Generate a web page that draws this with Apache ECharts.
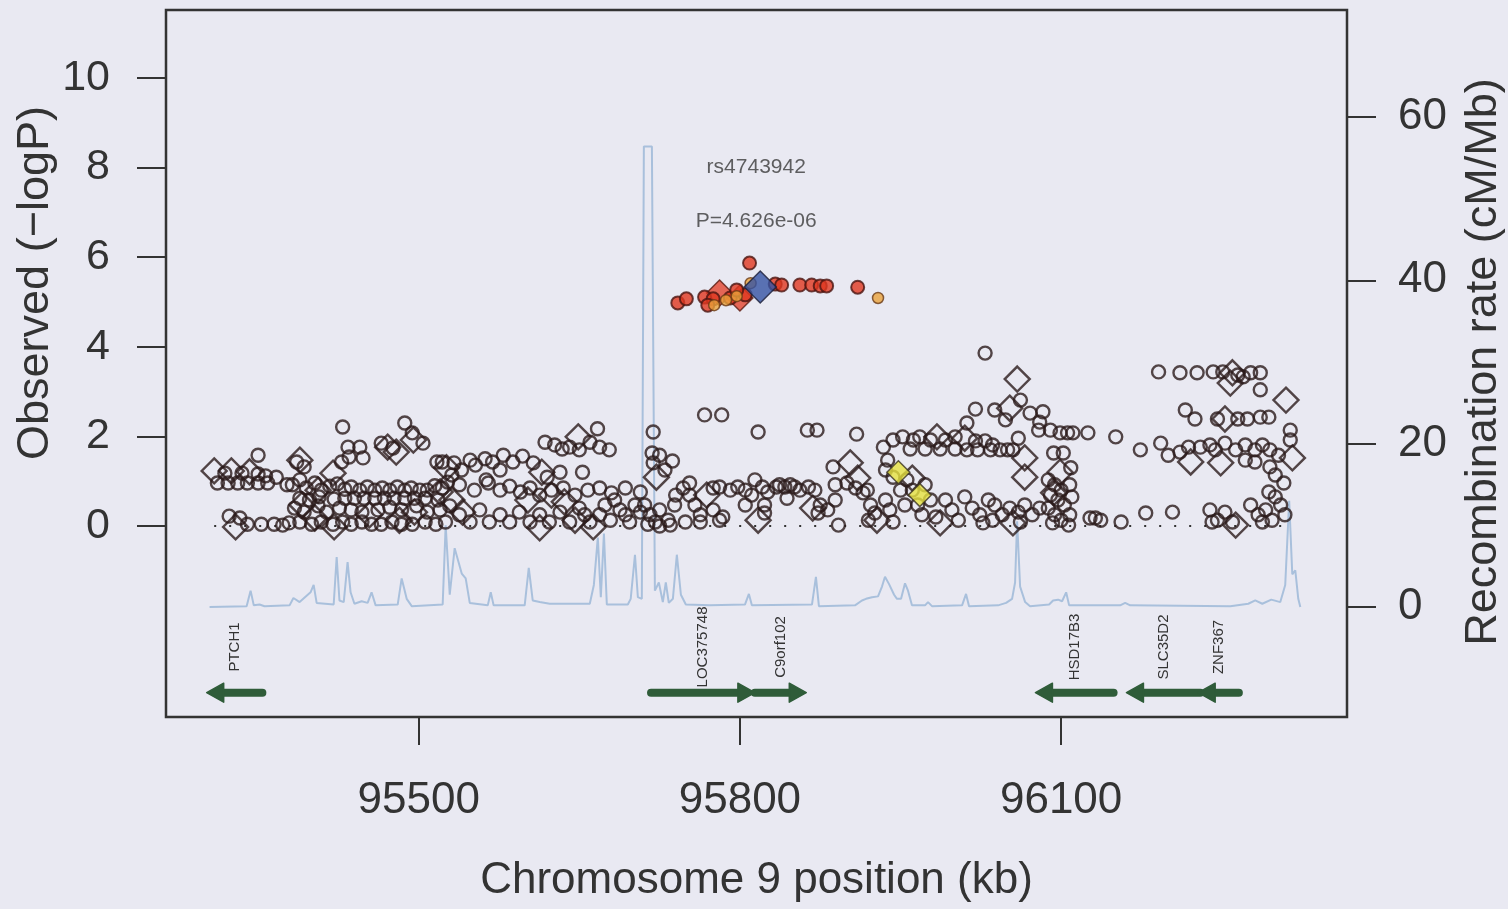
<!DOCTYPE html>
<html>
<head>
<meta charset="utf-8">
<script src="https://cdn.jsdelivr.net/npm/echarts@6/dist/echarts.min.js"></script>
<style>
  html, body { margin: 0; padding: 0; background: #e9e9f2; }
  #chart { width: 1508px; height: 909px; }
</style>
</head>
<body>
<div id="chart"></div>
<script>
// ---- Data: SNP positions (kb, chromosome 9) and observed -log10(P) ----

// Imputed SNPs with no LD information (open circles)
const openCircles = [
  [95319,1.18],[95335,1.18],[95350,1.16],[95357,1.12],[95367,1.09],
  [95312,0.96],[95322,0.96],[95331,0.96],[95340,0.96],[95350,0.96],[95359,0.96],
  [95350,1.58],[95377,0.92],
  [95323,0.22],[95333,0.18],[95340,0.04],[95353,0.04],[95365,0.04],[95373,0.02],[95379,0.07],
  [95429,2.21],[95434,1.76],[95445,1.76],[95435,1.54],[95448,1.52],[95428,1.43],
  [95386,1.43],[95393,1.32],
  [95465,1.85],[95476,1.74],[95487,2.3],[95494,2.08],[95504,1.85],[95517,1.43],[95522,1.43],[95531,1.14],[95548,1.47],
  [95382,0.92],[95389,1.03],[95395,0.85],[95403,0.96],[95409,0.8],[95417,0.89],[95424,0.94],[95431,0.82],[95437,0.87],
  [95445,0.8],[95452,0.87],[95459,0.8],[95466,0.85],[95473,0.8],[95480,0.87],[95487,0.8],[95493,0.85],[95501,0.8],
  [95508,0.8],[95515,0.9],[95522,0.85],[95527,0.98],
  [95389,0.62],[95398,0.58],[95407,0.65],[95421,0.6],[95431,0.62],[95440,0.62],[95449,0.62],[95459,0.62],[95468,0.62],
  [95477,0.62],[95487,0.62],[95496,0.62],[95506,0.62],[95518,0.58],
  [95384,0.4],[95393,0.31],[95406,0.45],[95414,0.31],[95426,0.4],[95437,0.36],[95447,0.31],[95462,0.36],[95473,0.42],
  [95484,0.36],[95498,0.45],[95508,0.31],[95520,0.36],[95529,0.45],
  [95389,0.09],[95400,0.04],[95409,0.09],[95420,0.04],[95429,0.09],[95437,0.04],[95447,0.09],[95456,0.04],[95465,0.04],
  [95475,0.09],[95484,0.04],[95494,0.04],[95506,0.09],[95516,0.04],[95525,0.09],
  [95562,1.5],[95569,1.43],[95576,1.25],[95563,1.03],[95533,1.41],[95540,1.25],[95553,1.36],
  [95597,1.56],[95607,1.41],[95620,1.09],
  [95618,1.87],[95627,1.81],[95634,1.72],[95641,1.76],[95650,1.7],[95660,1.87],[95669,1.76],[95678,1.7],[95667,2.17],
  [95632,1.2],[95653,1.2],[95579,1.58],[95588,1.43],
  [95538,0.92],[95552,0.8],[95565,0.96],[95576,0.8],[95585,0.89],[95595,0.76],[95604,0.85],[95613,0.69],[95624,0.8],
  [95635,0.85],[95646,0.69],[95658,0.8],[95669,0.85],[95680,0.74],[95693,0.85],[95707,0.76],
  [95538,0.25],[95548,0.09],[95557,0.36],[95566,0.09],[95576,0.25],[95585,0.09],[95594,0.31],[95604,0.09],[95613,0.25],
  [95622,0.09],[95632,0.31],[95641,0.09],[95650,0.4],[95660,0.09],[95669,0.25],[95679,0.13],[95688,0.36],[95697,0.09],
  [95707,0.31],[95655,0.25],[95674,0.47],[95683,0.58],[95693,0.25],[95702,0.47],
  [95719,2.1],[95718,1.63],[95725,1.58],[95737,1.45],[95719,1.41],[95730,1.25],
  [95767,2.48],[95783,2.48],
  [95711,0.47],[95716,0.25],[95721,0.09],[95725,0.36],[95733,0.13],[95739,0.47],[95747,0.85],[95753,0.69],[95758,0.47],
  [95763,0.25],[95775,0.85],[95775,0.36],[95781,0.13],[95763,0.09],[95749,0.09],[95735,0.02],[95725,0.0],[95714,0.04],
  [95740,0.69],[95753,0.96],
  [95781,0.87],[95798,0.87],[95805,0.8],[95811,0.69],[95821,0.87],[95826,0.76],[95834,0.87],[95842,0.87],[95851,0.87],
  [95856,0.8],[95864,0.87],[95870,0.8],[95791,0.8],[95814,1.03],
  [95823,0.47],[95823,0.29],[95784,0.2],[95805,0.47],
  [95817,2.1],
  [95863,2.14],[95872,2.14],[95909,2.05],
  [95837,0.92],[95847,0.92],[95844,0.62],[95875,0.47],[95882,0.36],[95889,0.58],[95873,0.29],[95892,0.02],
  [95887,1.32],[95889,0.92],[95900,0.96],[95908,0.85],[95919,0.8],
  [95915,0.74],[95922,0.47],[95926,0.29],[95936,0.58],[95940,0.36],[95943,0.09],[95920,0.13],
  [95934,1.76],[95938,1.47],[95936,1.25],[95943,1.09],
  [95943,1.92],[95952,1.99],[95962,1.92],[95968,1.99],[95978,1.92],[95992,1.92],[96001,1.99],[96020,1.9],[96029,1.9],[96036,1.81],
  [95959,1.72],[95973,1.72],[95987,1.72],[96001,1.72],[96012,1.7],[96022,1.7],[96034,1.7],[96043,1.7],[96050,1.7],[96055,1.7],
  [95956,1.03],[95961,0.8],[95966,0.47],[95973,0.92],[95978,0.58],[95983,0.2],[95970,0.25],
  [95992,0.58],[95998,0.36],[96004,0.13],[96010,0.65],[96017,0.4],[96024,0.25],[96032,0.58],[96036,0.13],[96027,0.07],
  [95950,0.8],[95954,0.47],
  [96029,3.86],[96062,2.81],[96020,2.61],[96038,2.59],[96012,2.3],[96048,2.37],
  [96071,2.52],[96083,2.55],[96080,2.32],[96079,2.14],[96090,2.14],[96099,2.08],[96106,2.08],[96111,2.08],[96125,2.08],
  [96060,1.96],[96093,1.63],[96102,1.63],[96109,1.3],
  [96088,1.03],[96094,0.92],[96100,0.8],[96108,0.92],[96090,0.69],[96097,0.58],[96103,0.47],[96110,0.65],[96088,0.4],
  [96094,0.25],[96100,0.13],[96108,0.25],[96092,0.07],[96107,0.02],
  [96038,0.47],[96045,0.25],[96052,0.4],[96060,0.31],[96066,0.47],[96073,0.25],[96080,0.4],[96062,0.09],
  [96127,0.18],[96132,0.18],[96137,0.13],[96156,0.09],[96179,0.29],[96204,0.31],
  [96191,3.44],[96211,3.42],[96227,3.42],[96242,3.44],[96251,3.44],[96265,3.37],[96277,3.42],[96286,3.42],[96286,3.04],[96270,3.33],
  [96216,2.59],[96225,2.39],
  [96246,2.39],[96265,2.39],[96274,2.39],[96286,2.43],[96294,2.43],
  [96151,1.99],[96174,1.7],
  [96193,1.85],[96200,1.58],[96211,1.65],[96219,1.76],[96230,1.76],[96239,1.81],[96244,1.7],[96253,1.85],[96263,1.7],
  [96272,1.81],[96281,1.7],[96288,1.81],[96295,1.7],[96303,1.58],[96272,1.47],[96281,1.43],
  [96314,2.14],[96314,1.92],
  [96295,1.32],[96300,1.14],[96308,0.96],[96294,0.76],
  [96239,0.36],[96246,0.13],[96253,0.31],[96260,0.09],[96241,0.09],
  [96277,0.47],[96284,0.25],[96291,0.36],[96297,0.13],[96305,0.47],[96309,0.25],[96288,0.09],[96300,0.65]
];

// Genotyped SNPs with no LD information (open diamonds)
const openDiamonds = [
  [95309,1.23],[95325,1.23],[95342,1.21],[95329,-0.02],
  [95420,1.18],[95389,1.47],[95471,1.76],[95479,1.65],[95495,1.92],[95526,1.3],
  [95391,0.47],[95403,0.18],[95421,-0.02],[95406,0.8],[95482,0.13],[95496,0.31],[95520,0.76],[95531,0.58],[95541,0.31],[95454,0.25],
  [95615,1.2],[95649,1.99],[95624,0.69],[95602,0.58],[95636,0.54],[95663,-0.02],[95646,0.13],[95613,-0.04],
  [95722,1.09],[95769,0.69],[95817,0.13],
  [95868,0.4],[95903,1.41],[95910,1.07],[95928,0.13],[95984,1.99],[96010,1.96],[95961,1.07],[95987,0.07],
  [96059,3.28],[96052,2.63],
  [96066,1.52],[96066,1.09],[96099,1.2],[96093,0.74],[96055,0.07],
  [96260,3.42],[96258,3.19],[96310,2.81],[96253,2.39],[96221,1.43],[96249,1.41],[96316,1.52],[96263,0.02]
];

// SNPs in strong LD with the lead SNP
const redCircles = [
  [95742,4.98],[95750,5.07],[95767,5.11],[95775,5.07],[95791,5.09],[95805,5.16],[95809,5.87],[95833,5.4],
  [95839,5.38],[95856,5.38],[95867,5.38],[95875,5.36],[95881,5.36],[95910,5.33],[95770,4.93],[95797,5.27]
];
const redDiamonds = [[95781,5.2],[95800,5.09]];

// SNPs in moderate LD
const orangeCircles = [[95776,4.93],[95797,5.13],[95810,5.42],[95929,5.09],[95787,5.04]];

// SNPs in weak LD
const yellowDiamonds = [[95948,1.2],[95968,0.69]];

// Lead SNP
const leadSnpName = 'rs4743942';
const leadSnpPos = 95819;
const leadSnpP = 4.626e-6;

// Recombination rate (cM/Mb) along the region: [kb, rate]
const recombRate = [
  [95304.7,0],[95339.3,0.1],[95343,2.0],[95346,0.2],[95351.4,0.3],[95356,0.1],[95379.4,0.2],[95383,1.1],[95388.8,0.6],
  [95399,1.8],[95401.9,2.7],[95404.7,0.5],[95420.6,0.3],[95423.4,6.1],[95426,0.8],[95430,0.6],[95433.6,5.5],[95436.4,1.8],
  [95440,0.4],[95446.7,0.7],[95452.3,0.5],[95456,1.8],[95459.8,0.2],[95480.4,0.3],[95484.1,3.5],[95488.8,1.0],[95493.5,0.1],
  [95522.4,0.3],[95525.2,10],[95529,1.5],[95533.6,7.2],[95540.2,4.1],[95543.9,3.5],[95547.7,0.5],[95564.5,0.2],[95567.3,1.8],
  [95570,0.2],[95599,0.2],[95602.8,4.8],[95606.5,0.8],[95613,0.6],[95622.4,0.4],[95659.8,0.4],[95663.6,2.7],[95667.3,8.5],
  [95670.1,1.2],[95673,9.0],[95675.7,0.3],[95695.3,0.3],[95698,1.0],[95702,6.4],[95704.7,1.2],[95708.4,1.0],[95710.3,56.4],
  [95717.8,56.4],[95720.6,2.0],[95724.3,3.0],[95728,0.6],[95730.8,3.0],[95733.6,0.5],[95737.4,1.0],[95741.1,6.4],[95744.9,1.5],
  [95749.5,0.3],[95772,0.2],[95804.7,0.3],[95808.4,1.6],[95811.2,0.2],[95867.3,0.3],[95871,3.7],[95873.8,0.1],[95907.5,0.2],
  [95914,0.8],[95917.8,1.0],[95923.4,1.2],[95929,1.3],[95932.7,2.5],[95935.5,3.7],[95939.3,2.8],[95944,1.5],[95946.7,1.0],
  [95950.5,1.0],[95954.2,2.9],[95957,2.0],[95960.7,0.2],[95972.9,0.2],[95975.7,0.6],[95979.4,0.1],[96007.5,0.2],[96011.2,1.6],
  [96014,0.1],[96041.1,0.2],[96048.6,0.5],[96054.2,1.0],[96057,3.0],[96058.9,10.5],[96061.7,2.5],[96066.4,0.6],[96071,0.1],
  [96088.8,0.3],[96092.5,0.8],[96097.2,0.9],[96100.9,0.7],[96104.7,1.8],[96107.5,0.2],[96155.1,0.2],[96159.8,0.5],[96164.5,0.2],
  [96258,0.1],[96274.8,0.4],[96281.3,0.8],[96287.9,0.4],[96296.3,0.9],[96304.7,0.6],[96309.3,2.7],[96313,13],[96315.9,4.0],
  [96318.7,4.5],[96321.5,1.0],[96323.4,0]
];

// Genes: name, start (kb), end (kb), strand
const geneNames   = ['PTCH1', 'LOC375748', 'C9orf102', 'HSD17B3', 'SLC35D2', 'ZNF367'];
const geneStarts  = [95302, 95717, 95814, 96076, 96161, 96228];
const geneEnds    = [95354, 95814, 95862, 96149, 96230, 96266];
const geneStrands = ['-', '+', '+', '-', '-', '-'];

// Axis ticks
const xTicks = [95500, 95800, 96100];
const pTicks = [0, 2, 4, 6, 8, 10];
const rateTicks = [0, 20, 40, 60];

// ---- Layout and styles ----
const FONT = '"Liberation Sans", Arial, Helvetica, sans-serif';
const TEXT = '#333333';
const GENE_ROW = -3.72;     // -logP units, gene arrows
const GENE_LABEL_ROW = -2.70;
const GENE_GREEN = '#2f5c39';

function pLabel(p) {
  return 'P=' + p.toExponential(3).replace(/e([+-])(\d)$/, 'e$10$2');
}

const leadLogP = -Math.log10(leadSnpP);
const snpMin = Math.min(...openCircles.map(d => d[0]), ...openDiamonds.map(d => d[0]));
const snpMax = Math.max(...openCircles.map(d => d[0]), ...openDiamonds.map(d => d[0]));

const geneData = geneNames.map((n, i) => [geneStarts[i], geneEnds[i], geneStrands[i] === '+' ? 1 : -1, n]);

const chart = echarts.init(document.getElementById('chart'));

const openStyle = { color: 'rgba(0,0,0,0)', borderColor: '#2a1a1a', borderWidth: 2.4 };

chart.setOption({
  animation: false,
  backgroundColor: '#e9e9f2',
  textStyle: { fontFamily: FONT },
  grid: {
    left: 166, top: 10, width: 1181, height: 707,
    show: true, borderColor: '#333333', borderWidth: 2.5, backgroundColor: 'transparent'
  },
  xAxis: {
    type: 'value', min: 95264, max: 96367,
    axisLine: { show: false, onZero: false },
    splitLine: { show: false },
    axisTick: { show: true, customValues: xTicks, length: 28, lineStyle: { color: TEXT, width: 2 } },
    axisLabel: { customValues: xTicks, fontSize: 44, color: TEXT, margin: 62, fontFamily: FONT, formatter: v => String(v) },
    name: 'Chromosome 9 position (kb)', nameLocation: 'middle', nameGap: 142,
    nameTextStyle: { fontSize: 44, color: TEXT, fontFamily: FONT }
  },
  yAxis: [
    {
      type: 'value', position: 'left', min: -4.263, max: 11.518,
      axisLine: { show: false, onZero: false }, splitLine: { show: false },
      axisTick: { show: true, customValues: pTicks, length: 29, lineStyle: { color: TEXT, width: 2 } },
      axisLabel: { customValues: pTicks, fontSize: 43, color: TEXT, margin: 56, fontFamily: FONT }
    },
    {
      type: 'value', position: 'right', min: -13.47, max: 73.1,
      axisLine: { show: false, onZero: false }, splitLine: { show: false },
      axisTick: { show: true, customValues: rateTicks, length: 29, lineStyle: { color: TEXT, width: 2 } },
      axisLabel: { customValues: rateTicks, fontSize: 44, color: TEXT, margin: 51, fontFamily: FONT }
    }
  ],
  graphic: {
    elements: [
      {
        type: 'text', x: 36, y: 283, rotation: Math.PI / 2, silent: true,
        style: { text: 'Observed (\u2212logP)', fontSize: 45, fill: TEXT, fontFamily: FONT, align: 'center', verticalAlign: 'middle' }
      },
      {
        type: 'text', x: 1484, y: 362, rotation: Math.PI / 2, silent: true,
        style: { text: 'Recombination rate (cM/Mb)', fontSize: 45, fill: TEXT, fontFamily: FONT, align: 'center', verticalAlign: 'middle' }
      }
    ]
  },
  series: [
    {
      name: 'Recombination rate', type: 'line', yAxisIndex: 1, data: recombRate,
      showSymbol: false, symbol: 'none', silent: true, z: 1,
      lineStyle: { color: '#a9c0dc', width: 2 }
    },
    {
      name: 'baseline', type: 'line', yAxisIndex: 0, data: [[snpMin, 0], [snpMax, 0]],
      showSymbol: false, symbol: 'none', silent: true, z: 2,
      lineStyle: { color: '#333333', width: 2, type: [2, 13] }
    },
    {
      name: 'genes', type: 'custom', xAxisIndex: 0, yAxisIndex: 0, data: geneData, silent: true, z: 3,
      renderItem: function (params, api) {
        const a = api.coord([api.value(0), GENE_ROW]);
        const b = api.coord([api.value(1), GENE_ROW]);
        const dir = api.value(2);
        const lab = api.coord([(api.value(0) + api.value(1)) / 2, GENE_LABEL_ROW]);
        const head = 17, half = 9.5;
        const y = a[1];
        const tipX = dir > 0 ? b[0] : a[0];
        const tailX = dir > 0 ? a[0] : b[0];
        const baseX = tipX - dir * head;
        return {
          type: 'group',
          children: [
            { type: 'line', shape: { x1: tailX, y1: y, x2: baseX + dir * 2, y2: y },
              style: { stroke: GENE_GREEN, lineWidth: 8, lineCap: 'round' } },
            { type: 'polygon', shape: { points: [[tipX, y], [baseX, y - half], [baseX, y + half]] },
              style: { fill: GENE_GREEN, stroke: GENE_GREEN, lineWidth: 1.5, lineJoin: 'round' } },
            { type: 'text', x: lab[0], y: lab[1], rotation: Math.PI / 2,
              style: { text: geneNames[params.dataIndex], fontSize: 15, fill: '#333333', fontFamily: FONT,
                       align: 'center', verticalAlign: 'middle' } }
          ]
        };
      }
    },
    {
      name: 'imputed', type: 'scatter', data: openCircles, symbol: 'circle', symbolSize: 13,
      itemStyle: openStyle, silent: true, z: 4
    },
    {
      name: 'genotyped', type: 'scatter', data: openDiamonds, symbol: 'diamond', symbolSize: 25,
      itemStyle: openStyle, silent: true, z: 4
    },
    {
      name: 'weak LD', type: 'scatter', data: yellowDiamonds, symbol: 'diamond', symbolSize: 23,
      itemStyle: { color: '#e6e23e', borderColor: '#3a3220', borderWidth: 1.5 }, silent: true, z: 5
    },
    {
      name: 'strong LD diamonds', type: 'scatter', data: redDiamonds, symbol: 'diamond', symbolSize: 26,
      itemStyle: { color: '#e2452e', borderColor: '#5a1a10', borderWidth: 1.5 }, silent: true, z: 5
    },
    {
      name: 'strong LD', type: 'scatter', data: redCircles, symbol: 'circle', symbolSize: 13,
      itemStyle: { color: '#e0371f', borderColor: '#4a1410', borderWidth: 2 }, silent: true, z: 6
    },
    {
      name: 'moderate LD', type: 'scatter', data: orangeCircles, symbol: 'circle', symbolSize: 11,
      itemStyle: { color: '#eaa23c', borderColor: '#6a3a14', borderWidth: 1.5 }, silent: true, z: 6
    },
    {
      name: leadSnpName, type: 'scatter', data: [[leadSnpPos, leadLogP]], symbol: 'diamond', symbolSize: 32,
      itemStyle: { color: '#3553a3', borderColor: '#1b1f3a', borderWidth: 1.5 }, silent: true, z: 7,
      label: {
        show: true, position: 'top', distance: 36, offset: [-4, 0],
        formatter: leadSnpName + '\n\n' + pLabel(leadSnpP),
        fontSize: 21, lineHeight: 27, color: '#3a3a3a', fontFamily: FONT
      }
    }
  ]
});
</script>
</body>
</html>
